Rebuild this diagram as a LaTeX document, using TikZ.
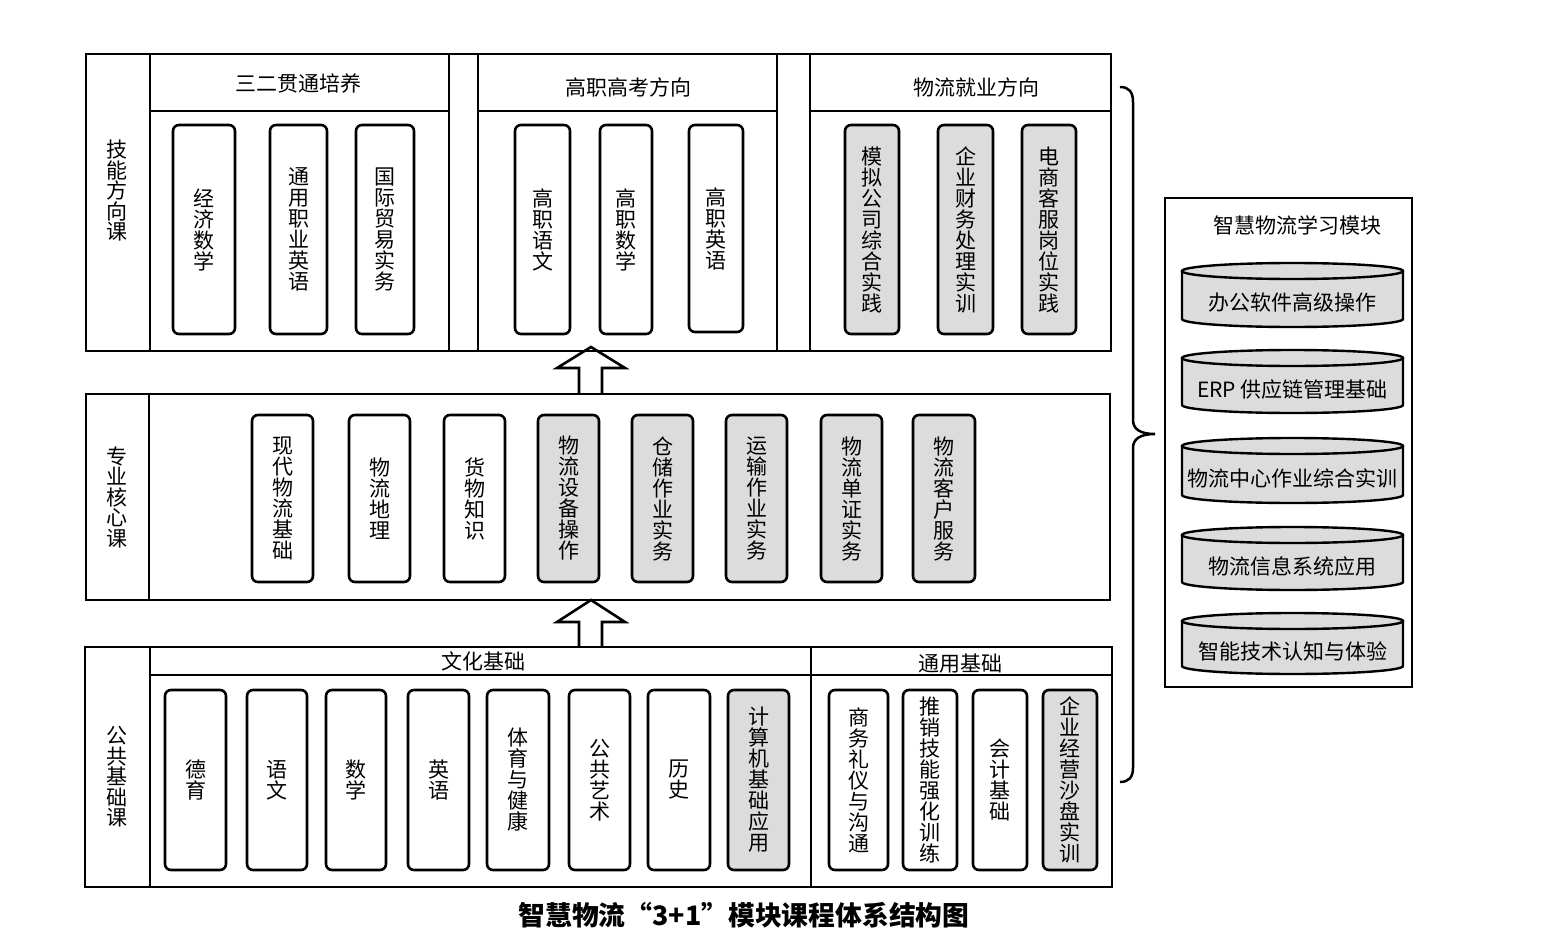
\documentclass[tikz,border=0pt]{standalone}
\usepackage{fontspec}
\setmainfont{Noto Sans CJK SC}
\definecolor{boxgray}{RGB}{220,220,220}
\newcommand{\cylbox}[4]{%
  \filldraw[boxgray] (1182,#2+8) -- (1182,#3-8) arc[start angle=180,end angle=360,x radius=110.5pt,y radius=8pt] -- (1403,#2+8) -- cycle;
  \draw[cylline] (1182,#2+8) -- (1182,#3-8) arc[start angle=180,end angle=360,x radius=110.5pt,y radius=8pt] -- (1403,#2+8);
  \draw[cylline,fill=boxgray] (1292.5,#2+8) ellipse[x radius=110.5pt,y radius=8pt];
  \node[cyltext] (#1) at (1292.5,{(#2+8+#3)/2+4}) {#4};%
}
\begin{document}
\begin{tikzpicture}[x=1pt,y=-1pt,
  sect/.style={draw,line width=2.6pt},
  cylline/.style={draw,line width=2.4pt},
  course/.style={draw,line width=2.6pt,rounded corners=6pt,inner sep=0pt,align=center,
    font=\fontsize{21}{21}\selectfont},
  graybox/.style={course,fill=boxgray},
  secttitle/.style={inner sep=0pt,align=center,font=\fontsize{21}{20.5}\selectfont},
  hdr/.style={inner sep=0pt,font=\fontsize{21}{24}\selectfont},
  cyltext/.style={inner sep=0pt,font=\fontsize{21}{24}\selectfont},
  blockarrow/.style={draw,fill=white,line width=2.6pt,line join=miter},
]
\useasboundingbox (0,0) rectangle (1543,934);

% ---------- block arrows ----------
\filldraw[blockarrow] (579,393) -- (579,368) -- (557,368) -- (591,347) -- (625,368) -- (602,368) -- (602,393);
\filldraw[blockarrow] (579,647) -- (579,622) -- (557,622) -- (591,600) -- (625,622) -- (602,622) -- (602,647);

% ---------- top section ----------
\draw[sect] (86,54) rectangle (1111,351);
\draw[sect] (150,54) -- (150,351);
\draw[sect] (449,54) -- (449,351);
\draw[sect] (478,54) -- (478,351);
\draw[sect] (777,54) -- (777,351);
\draw[sect] (810,54) -- (810,351);
\draw[sect] (150,111) -- (449,111);
\draw[sect] (478,111) -- (777,111);
\draw[sect] (810,111) -- (1111,111);

\node[secttitle] (l1) at (117,191) {技\\能\\方\\向\\课};
\node[hdr] (h1) at (298,83) {三二贯通培养};
\node[hdr] (h2) at (628,87) {高职高考方向};
\node[hdr] (h3) at (976,87) {物流就业方向};

\node[course,minimum width=62pt,minimum height=209pt] (t1) at (204,229.5) {经\\济\\数\\学};
\node[course,minimum width=57pt,minimum height=209pt] (t2) at (298.5,229.5) {通\\用\\职\\业\\英\\语};
\node[course,minimum width=58pt,minimum height=209pt] (t3) at (385,229.5) {国\\际\\贸\\易\\实\\务};
\node[course,minimum width=55pt,minimum height=209pt] (t4) at (542.5,229.5) {高\\职\\语\\文};
\node[course,minimum width=52pt,minimum height=209pt] (t5) at (626,229.5) {高\\职\\数\\学};
\node[course,minimum width=54pt,minimum height=207pt] (t6) at (716,228.5) {高\\职\\英\\语};
\node[graybox,minimum width=54pt,minimum height=209pt] (t7) at (872,229.5) {模\\拟\\公\\司\\综\\合\\实\\践};
\node[graybox,minimum width=55pt,minimum height=209pt] (t8) at (965.5,229.5) {企\\业\\财\\务\\处\\理\\实\\训};
\node[graybox,minimum width=54pt,minimum height=209pt] (t9) at (1049,229.5) {电\\商\\客\\服\\岗\\位\\实\\践};

% ---------- middle section ----------
\draw[sect] (86,394) rectangle (1110,600);
\draw[sect] (149,394) -- (149,600);
\node[secttitle] (l2) at (117,497) {专\\业\\核\\心\\课};

\node[course,minimum width=61pt,minimum height=167pt] (m1) at (282.5,498.5) {现\\代\\物\\流\\基\\础};
\node[course,minimum width=61pt,minimum height=167pt] (m2) at (379.5,498.5) {物\\流\\地\\理};
\node[course,minimum width=61pt,minimum height=167pt] (m3) at (474.5,498.5) {货\\物\\知\\识};
\node[graybox,minimum width=61pt,minimum height=167pt] (m4) at (568.5,498.5) {物\\流\\设\\备\\操\\作};
\node[graybox,minimum width=61pt,minimum height=167pt] (m5) at (662.5,498.5) {仓\\储\\作\\业\\实\\务};
\node[graybox,minimum width=61pt,minimum height=167pt] (m6) at (756.5,498.5) {运\\输\\作\\业\\实\\务};
\node[graybox,minimum width=61pt,minimum height=167pt] (m7) at (851.5,498.5) {物\\流\\单\\证\\实\\务};
\node[graybox,minimum width=62pt,minimum height=167pt] (m8) at (944,498.5) {物\\流\\客\\户\\服\\务};

% ---------- bottom section ----------
\draw[sect] (85,647) rectangle (1112,887);
\draw[sect] (150,647) -- (150,887);
\draw[sect] (150,675) -- (1112,675);
\draw[sect] (811,647) -- (811,887);
\node[secttitle] (l3) at (117,777) {公\\共\\基\\础\\课};
\node[hdr] (h4) at (483,661) {文化基础};
\node[hdr] (h5) at (960,664) {通用基础};

\node[course,minimum width=61pt,minimum height=180pt] (b1) at (195.5,780) {德\\育};
\node[course,minimum width=60pt,minimum height=180pt] (b2) at (277,780) {语\\文};
\node[course,minimum width=60pt,minimum height=180pt] (b3) at (356,780) {数\\学};
\node[course,minimum width=61pt,minimum height=180pt] (b4) at (438.5,780) {英\\语};
\node[course,minimum width=62pt,minimum height=180pt] (b5) at (518,780) {体\\育\\与\\健\\康};
\node[course,minimum width=61pt,minimum height=180pt] (b6) at (599.5,780) {公\\共\\艺\\术};
\node[course,minimum width=62pt,minimum height=180pt] (b7) at (679,780) {历\\史};
\node[graybox,minimum width=61pt,minimum height=180pt] (b8) at (758.5,780) {计\\算\\机\\基\\础\\应\\用};
\node[course,minimum width=59pt,minimum height=180pt] (b9) at (858.5,780) {商\\务\\礼\\仪\\与\\沟\\通};
\node[course,minimum width=54pt,minimum height=180pt] (b10) at (930,780) {推\\销\\技\\能\\强\\化\\训\\练};
\node[course,minimum width=54pt,minimum height=180pt] (b11) at (1000,780) {会\\计\\基\\础};
\node[graybox,minimum width=54pt,minimum height=180pt] (b12) at (1070,780) {企\\业\\经\\营\\沙\\盘\\实\\训};

% ---------- brace ----------
\draw[line width=2.5pt] (1120,87) .. controls (1129,87) and (1133,92) .. (1133,102)
  -- (1133,420) .. controls (1133,429) and (1140,434) .. (1155,434)
  .. controls (1140,434) and (1133,439) .. (1133,448)
  -- (1133,768) .. controls (1133,777) and (1129,782) .. (1120,782);

% ---------- right panel ----------
\draw[sect,line width=2.4pt] (1165,198) rectangle (1412,687);
\node[cyltext] (rt) at (1297,225) {智慧物流学习模块};
\cylbox{c1}{263}{327}{办公软件高级操作}
\cylbox{c2}{350}{413}{ERP 供应链管理基础}
\cylbox{c3}{438}{503}{物流中心作业综合实训}
\cylbox{c4}{527}{590}{物流信息系统应用}
\cylbox{c5}{613}{674}{智能技术认知与体验}

% ---------- caption ----------
\node[inner sep=0pt,font=\bfseries\fontsize{26.8}{30}\selectfont] (cap) at (744,915) {智慧物流“3+1”模块课程体系结构图};
\end{tikzpicture}
\end{document}
